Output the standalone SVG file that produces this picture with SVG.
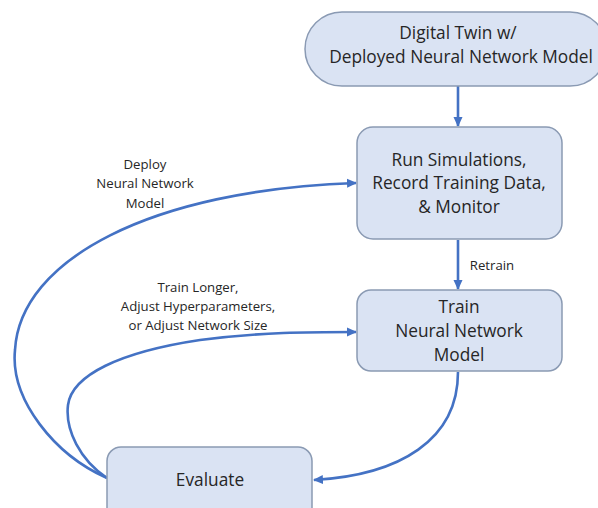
<svg xmlns="http://www.w3.org/2000/svg" width="598" height="508" viewBox="0 0 598 508">
  <style>
    .node { fill: #dae3f3; stroke: #8a9ab3; stroke-width: 1.5; }
    .nt { font-family: "Open Sans", "Noto Sans", sans-serif; font-size: 17.3px; fill: #262626; text-anchor: middle; }
    .lt { font-family: "Open Sans", "Noto Sans", sans-serif; font-size: 13.2px; fill: #262626; text-anchor: middle; }
    .conn { fill: none; stroke: #4472c4; stroke-width: 2.6; }
  </style>
  <defs>
    <marker id="arr" markerWidth="10" markerHeight="10" refX="9" refY="5" orient="auto" markerUnits="userSpaceOnUse">
      <path d="M0,0.5 L10,5 L0,9.5 Z" fill="#4472c4"/>
    </marker>
  </defs>
  <rect width="598" height="508" fill="#ffffff"/>

  <g id="connectors">
    <path class="conn" d="M458,86 L458,126" marker-end="url(#arr)"/>
    <path class="conn" d="M458,240 L458,289" marker-end="url(#arr)"/>
    <path class="conn" d="M107,478 C55,455 10,400 15,350 C20,260 150,190 356,183" marker-end="url(#arr)"/>
    <path class="conn" d="M107,478 C80,460 65,430 68,405 C72,375 120,352 200,340 C260,332 310,332 356,332" marker-end="url(#arr)"/>
    <path class="conn" d="M458,372 C458,440 400,475 314,480" marker-end="url(#arr)"/>
  </g>

  <g id="n-digital-twin">
    <rect class="node" x="305" y="12" width="302" height="74" rx="37" ry="37"/>
    <text class="nt" x="458" y="39">Digital Twin w/</text>
    <text class="nt" x="461" y="63">Deployed Neural Network Model</text>
  </g>

  <g id="n-run">
    <rect class="node" x="357" y="127" width="205" height="112" rx="16" ry="16"/>
    <text class="nt" x="459" y="166">Run Simulations,</text>
    <text class="nt" x="459" y="189">Record Training Data,</text>
    <text class="nt" x="459" y="213">&amp; Monitor</text>
  </g>

  <g id="n-train">
    <rect class="node" x="357" y="290" width="205" height="81" rx="14" ry="14"/>
    <text class="nt" x="459" y="313">Train</text>
    <text class="nt" x="459" y="337">Neural Network</text>
    <text class="nt" x="459" y="361">Model</text>
  </g>

  <g id="n-evaluate">
    <rect class="node" x="107" y="447" width="205" height="80" rx="14" ry="14"/>
    <text class="nt" x="210" y="486">Evaluate</text>
  </g>

  <g id="labels">
    <text class="lt" x="145" y="169">Deploy</text>
    <text class="lt" x="145" y="188">Neural Network</text>
    <text class="lt" x="145" y="208">Model</text>
    <text class="lt" x="198" y="292">Train Longer,</text>
    <text class="lt" x="198" y="311">Adjust Hyperparameters,</text>
    <text class="lt" x="198" y="330">or Adjust Network Size</text>
    <text class="lt" x="492" y="270">Retrain</text>
  </g>
</svg>
